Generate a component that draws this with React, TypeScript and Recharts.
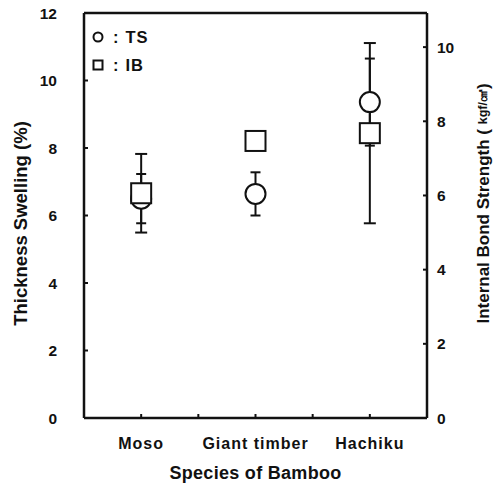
import { ComposedChart, Scatter, XAxis, YAxis, ErrorBar, ReferenceLine, Label, Legend } from 'recharts';

const species = ['Moso', 'Giant timber', 'Hachiku'];
const speciesX = [1, 3, 5];
const xTicks = [1, 2, 3, 4, 5];
const tsValues = [6.5, 6.64, 9.36];
const tsErrors = [0.73, 0.64, 1.29];
const ibValues = [6.06, 7.47, 7.68];
const ibErrors = [1.06, 0, 2.43];
const tsTicks = [0, 2, 4, 6, 8, 10, 12];
const ibTicks = [0, 2, 4, 6, 8, 10];

const tsData = species.map((name, i) => ({ name, x: speciesX[i], y: tsValues[i], err: tsErrors[i] }));
const ibData = species.map((name, i) => ({ name, x: speciesX[i], y: ibValues[i], err: ibErrors[i] }));

const font = '"Liberation Sans", Arial, Helvetica, sans-serif';
const ink = '#111';

const CircleMark = (p: any) => (
  <circle cx={p.cx} cy={p.cy} r={10} fill="#fff" stroke={ink} strokeWidth={2} />
);
const SquareMark = (p: any) => (
  <rect x={p.cx - 10} y={p.cy - 10} width={20} height={20} fill="#fff" stroke={ink} strokeWidth={2} />
);

function LegendBox() {
  return (
    <div style={{ fontFamily: font, fontSize: 16.5, fontWeight: 'bold', color: ink, lineHeight: '28px' }}>
      <div style={{ display: 'flex', alignItems: 'center' }}>
        <svg width={14} height={14}><circle cx={7} cy={7} r={4.5} fill="none" stroke={ink} strokeWidth={2} /></svg>
        <span style={{ marginLeft: 8 }}>:</span>
        <span style={{ marginLeft: 7, letterSpacing: 1 }}>TS</span>
      </div>
      <div style={{ display: 'flex', alignItems: 'center' }}>
        <svg width={14} height={14}><rect x={2.5} y={2.5} width={9} height={9} fill="none" stroke={ink} strokeWidth={2} /></svg>
        <span style={{ marginLeft: 8 }}>:</span>
        <span style={{ marginLeft: 7, letterSpacing: 1 }}>IB</span>
      </div>
    </div>
  );
}

const RightTitle = (props: any) => {
  const vb = props.viewBox;
  const cx = vb.x + vb.width - 10;
  const cy = vb.y + vb.height / 2 - 12;
  return (
    <text
      x={cx}
      y={cy}
      transform={`rotate(-90, ${cx}, ${cy})`}
      textAnchor="middle"
      dominantBaseline="central"
      fill={ink}
      fontFamily={font}
      fontWeight="bold"
      fontSize={17}
    >
      <tspan>Internal Bond Strength ( </tspan>
      <tspan fontSize={12.5}>kgf/㎠</tspan>
      <tspan>)</tspan>
    </text>
  );
};

export default function App() {
  const tickStyle = { fill: ink, fontSize: 15.5, fontWeight: 'bold', fontFamily: font };
  const catStyle = { fill: ink, fontSize: 16, fontWeight: 'bold', fontFamily: font, letterSpacing: 1 };
  return (
    <div style={{ position: 'absolute', left: 0, top: 0, background: '#fff' }}>
      <ComposedChart width={493} height={488} margin={{ top: 13, right: 0, bottom: 0, left: 0 }}>
        <XAxis
          type="number"
          dataKey="x"
          domain={[0, 6]}
          ticks={xTicks}
          tickFormatter={(v: number) => {
            const i = speciesX.indexOf(v);
            return i >= 0 ? species[i] : '';
          }}
          height={70}
          tickSize={-4}
          tickMargin={24}
          tick={catStyle}
          axisLine={{ stroke: ink, strokeWidth: 2.5 }}
          tickLine={{ stroke: ink, strokeWidth: 2 }}
        >
          <Label
            value="Species of Bamboo"
            position="insideBottom"
            offset={9}
            style={{ fill: ink, fontSize: 18, fontWeight: 'bold', fontFamily: font, letterSpacing: 0.3 }}
          />
        </XAxis>
        <YAxis
          yAxisId="ts"
          orientation="left"
          domain={[0, 12]}
          ticks={tsTicks}
          width={84}
          tickSize={-4}
          tickMargin={31}
          tick={tickStyle}
          axisLine={{ stroke: ink, strokeWidth: 2.5 }}
          tickLine={{ stroke: ink, strokeWidth: 2 }}
        >
          <Label
            value="Thickness Swelling (%)"
            angle={-90}
            position="center"
            dx={-22}
            dy={8}
            style={{ fill: ink, fontSize: 18.5, fontWeight: 'bold', fontFamily: font }}
          />
        </YAxis>
        <YAxis
          yAxisId="ib"
          orientation="right"
          domain={[0, 10.92]}
          allowDataOverflow
          ticks={ibTicks}
          width={66}
          tickSize={-4}
          tickMargin={14}
          tick={tickStyle}
          axisLine={{ stroke: ink, strokeWidth: 2.5 }}
          tickLine={{ stroke: ink, strokeWidth: 2 }}
        >
          <Label content={RightTitle} />
        </YAxis>
        <ReferenceLine yAxisId="ts" y={12} stroke={ink} strokeWidth={2.5} />
        <Scatter name="TS" yAxisId="ts" data={tsData} dataKey="y" shape={CircleMark} isAnimationActive={false}>
          <ErrorBar dataKey="err" direction="y" width={5} stroke={ink} strokeWidth={2} isAnimationActive={false} />
        </Scatter>
        <Scatter name="IB" yAxisId="ib" data={ibData} dataKey="y" shape={SquareMark} isAnimationActive={false}>
          <ErrorBar dataKey="err" direction="y" width={6} stroke={ink} strokeWidth={2} isAnimationActive={false} />
        </Scatter>
        <Legend
          layout="vertical"
          verticalAlign="middle"
          align="center"
          content={() => <LegendBox />}
          wrapperStyle={{ top: 23, left: 91, width: 'auto' }}
        />
      </ComposedChart>
    </div>
  );
}
